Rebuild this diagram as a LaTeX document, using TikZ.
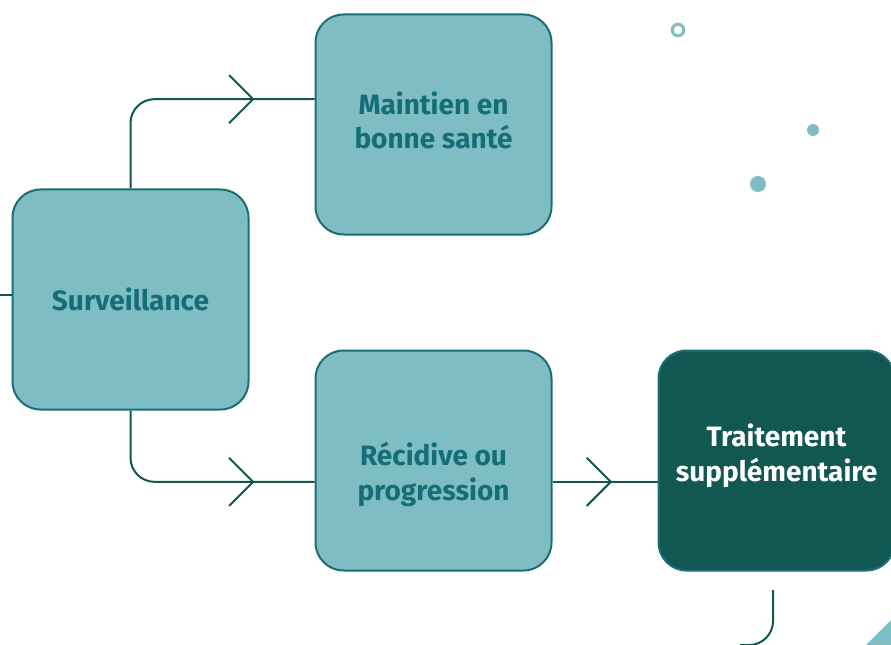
\documentclass[tikz,border=0pt]{standalone}
\usepackage{fontspec}
\setmainfont{Fira Sans}
\usetikzlibrary{arrows.meta}
\usetikzlibrary{decorations.markings}

\definecolor{boxfill}{HTML}{7FBDC5}
\definecolor{boxline}{HTML}{1A6F73}
\definecolor{boxtext}{HTML}{146E77}
\definecolor{darkfill}{HTML}{115752}
\definecolor{connline}{HTML}{10574F}

\tikzset{
  stage/.style={draw=boxline, line width=1.5pt, fill=boxfill, rounded corners=21pt,
    minimum width=177pt, minimum height=165pt},
  darkstage/.style={stage, fill=darkfill},
  stagelabel/.style={align=center, text=boxtext, font=\fontsize{21}{26}\selectfont\bfseries},
  darklabel/.style={stagelabel, text=white},
  conn/.style={draw=connline, line width=1.5pt, rounded corners=18pt},
  chevron/.style={postaction={decorate}, decoration={markings,
    mark=at position #1 with {\arrow[connline]{Straight Barb[length=18pt,width=36pt,line width=1.5pt]}}}},
  dot/.style={fill=boxfill, draw=none}
}

\begin{document}
\begin{tikzpicture}[x=0.75pt, y=-0.75pt]
    \useasboundingbox (0,0) rectangle (891,645);

    \node[stage] (surv) at (130.5,299.5) {};
    \node[stage] (maint) at (433.5,124.5) {};
    \node[stage] (recid) at (433.5,460.5) {};
    \node[darkstage] (trait) at (776.5,460.5) {};

    \node[stagelabel] (surv-label) at (surv.center) {Surveillance};
    \node[stagelabel] (maint-label) at ([yshift=3pt]maint.center) {Maintien en\\bonne santé};
    \node[stagelabel] (recid-label) at ([yshift=-10.5pt]recid.center) {Récidive ou\\progression};
    \node[darklabel] (trait-label) at ([yshift=3.5pt]trait.center) {Traitement\\supplémentaire};

    \coordinate (in) at (0,295);
    \coordinate (out) at (740,645);

    \draw[conn] (in) -- (surv.west |- in);
    \draw[conn, chevron=-45pt] (surv.north) |- ([yshift=19pt]maint.west);
    \draw[conn, chevron=-45pt] (surv.south) |- ([yshift=-16pt]recid.west);
    \draw[conn, chevron=-34pt] ([yshift=-16pt]recid.east) -- ([yshift=-16pt]trait.west);
    \draw[conn] ([xshift=-2.6pt,yshift=-14pt]trait.south) |- (out);

    % decorative dots
    \draw[boxfill, line width=2.25pt] (678,30) circle (5.8);
    \fill[dot] (813,130) circle (6);
    \fill[dot] (758,184) circle (8);
    \fill[dot] (866,645) -- (891,620) -- (891,645) -- cycle;
\end{tikzpicture}
\end{document}
